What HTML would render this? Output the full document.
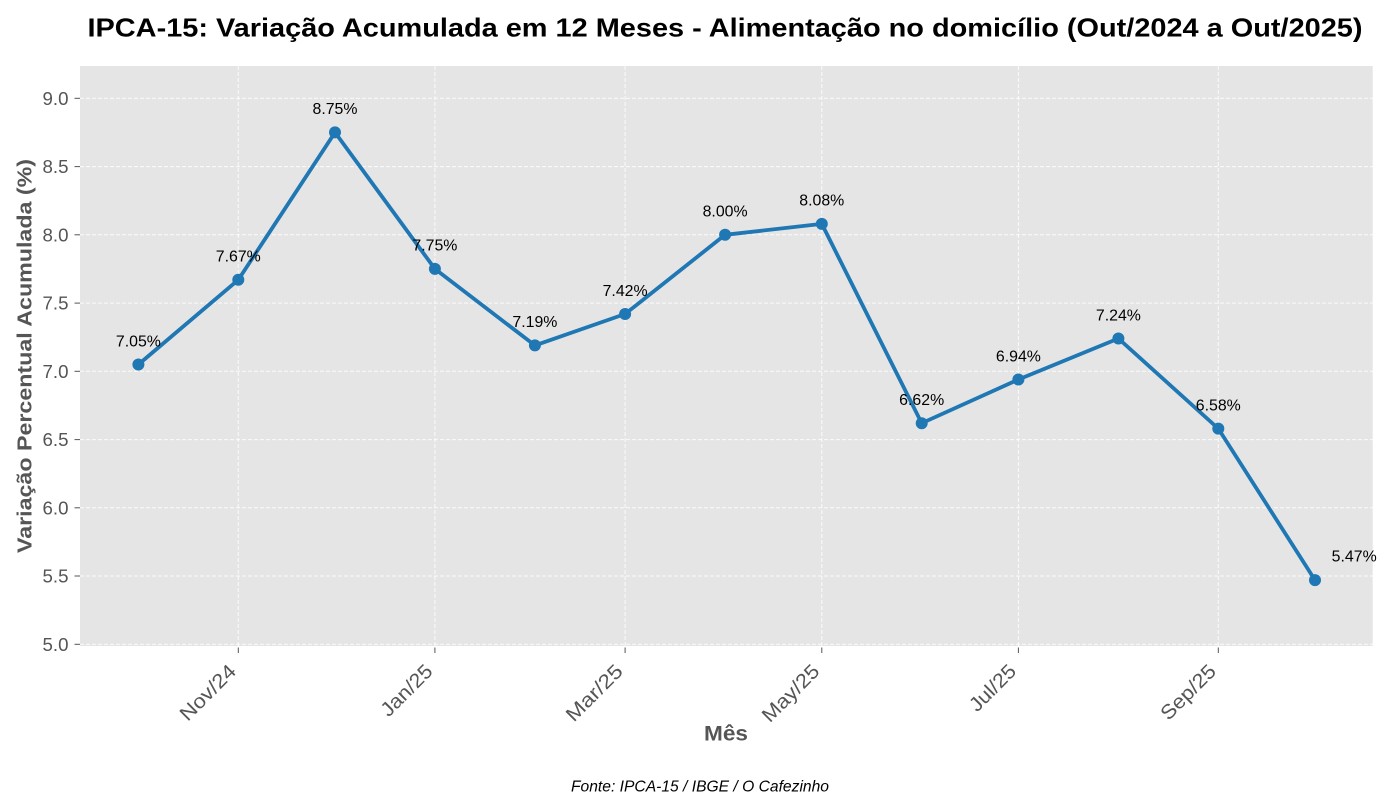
<!DOCTYPE html>
<html>
<head>
<meta charset="utf-8">
<style>
  html, body { margin:0; padding:0; background:#ffffff; }
  svg { display:block; }
  .tick { font-family:"Liberation Sans", "DejaVu Sans", sans-serif; font-size:18px; fill:#555555; }
  .xt { font-family:"Liberation Sans", "DejaVu Sans", sans-serif; font-size:20px; fill:#555555; }
  .dl { font-family:"Liberation Sans", "DejaVu Sans", sans-serif; font-size:15.5px; fill:#000000; text-anchor:middle; }
</style>
</head>
<body>
<svg width="1400" height="800" viewBox="0 0 1400 800" xmlns="http://www.w3.org/2000/svg">
  <rect x="0" y="0" width="1400" height="800" fill="#ffffff"/>
  <rect x="80" y="66" width="1292.7" height="580" fill="#e5e5e5"/>

  <g stroke="#ffffff" stroke-opacity="0.85" stroke-width="1" stroke-dasharray="4,2" fill="none">
    <line x1="80" x2="1372.7" y1="644.3" y2="644.3"/>
    <line x1="80" x2="1372.7" y1="576.0" y2="576.0"/>
    <line x1="80" x2="1372.7" y1="507.8" y2="507.8"/>
    <line x1="80" x2="1372.7" y1="439.6" y2="439.6"/>
    <line x1="80" x2="1372.7" y1="371.3" y2="371.3"/>
    <line x1="80" x2="1372.7" y1="303.1" y2="303.1"/>
    <line x1="80" x2="1372.7" y1="234.8" y2="234.8"/>
    <line x1="80" x2="1372.7" y1="166.6" y2="166.6"/>
    <line x1="80" x2="1372.7" y1="98.3" y2="98.3"/>
    <line x1="238.3" x2="238.3" y1="66" y2="646"/>
    <line x1="434.9" x2="434.9" y1="66" y2="646"/>
    <line x1="625.1" x2="625.1" y1="66" y2="646"/>
    <line x1="821.8" x2="821.8" y1="66" y2="646"/>
    <line x1="1018.4" x2="1018.4" y1="66" y2="646"/>
    <line x1="1218.3" x2="1218.3" y1="66" y2="646"/>
  </g>

  <g stroke="#555555" stroke-width="1">
    <line x1="74.5" x2="80" y1="644.3" y2="644.3"/>
    <line x1="74.5" x2="80" y1="576.0" y2="576.0"/>
    <line x1="74.5" x2="80" y1="507.8" y2="507.8"/>
    <line x1="74.5" x2="80" y1="439.6" y2="439.6"/>
    <line x1="74.5" x2="80" y1="371.3" y2="371.3"/>
    <line x1="74.5" x2="80" y1="303.1" y2="303.1"/>
    <line x1="74.5" x2="80" y1="234.8" y2="234.8"/>
    <line x1="74.5" x2="80" y1="166.6" y2="166.6"/>
    <line x1="74.5" x2="80" y1="98.3" y2="98.3"/>
    <line x1="238.3" x2="238.3" y1="647.5" y2="653"/>
    <line x1="434.9" x2="434.9" y1="647.5" y2="653"/>
    <line x1="625.1" x2="625.1" y1="647.5" y2="653"/>
    <line x1="821.8" x2="821.8" y1="647.5" y2="653"/>
    <line x1="1018.4" x2="1018.4" y1="647.5" y2="653"/>
    <line x1="1218.3" x2="1218.3" y1="647.5" y2="653"/>
  </g>
  <g class="tick" text-anchor="end">
    <text x="68.5" y="650.8" textLength="26" lengthAdjust="spacingAndGlyphs">5.0</text>
    <text x="68.5" y="582.5" textLength="26" lengthAdjust="spacingAndGlyphs">5.5</text>
    <text x="68.5" y="514.3" textLength="26" lengthAdjust="spacingAndGlyphs">6.0</text>
    <text x="68.5" y="446.1" textLength="26" lengthAdjust="spacingAndGlyphs">6.5</text>
    <text x="68.5" y="377.8" textLength="26" lengthAdjust="spacingAndGlyphs">7.0</text>
    <text x="68.5" y="309.6" textLength="26" lengthAdjust="spacingAndGlyphs">7.5</text>
    <text x="68.5" y="241.3" textLength="26" lengthAdjust="spacingAndGlyphs">8.0</text>
    <text x="68.5" y="173.1" textLength="26" lengthAdjust="spacingAndGlyphs">8.5</text>
    <text x="68.5" y="104.8" textLength="26" lengthAdjust="spacingAndGlyphs">9.0</text>
  </g>

  <g class="xt" text-anchor="end">
    <text transform="translate(237.3,672.5) rotate(-45)" textLength="70" lengthAdjust="spacingAndGlyphs">Nov/24</text>
    <text transform="translate(433.9,672.5) rotate(-45)" textLength="64" lengthAdjust="spacingAndGlyphs">Jan/25</text>
    <text transform="translate(624.1,672.5) rotate(-45)" textLength="71" lengthAdjust="spacingAndGlyphs">Mar/25</text>
    <text transform="translate(820.8,672.5) rotate(-45)" textLength="72" lengthAdjust="spacingAndGlyphs">May/25</text>
    <text transform="translate(1017.4,672.5) rotate(-45)" textLength="57" lengthAdjust="spacingAndGlyphs">Jul/25</text>
    <text transform="translate(1217.3,672.5) rotate(-45)" textLength="69" lengthAdjust="spacingAndGlyphs">Sep/25</text>
  </g>

  <polyline fill="none" stroke="#1f77b4" stroke-width="3.8" stroke-linejoin="round" stroke-linecap="round"
    points="138.4,364.5 238.3,279.8 335.0,132.4 434.9,268.9 534.9,345.4 625.1,314.0 725.1,234.8 821.8,223.9 921.7,423.2 1018.4,379.5 1118.4,338.5 1218.3,428.6 1315.0,580.1"/>
  <g fill="#1f77b4">
    <circle cx="138.4" cy="364.5" r="6"/>
    <circle cx="238.3" cy="279.8" r="6"/>
    <circle cx="335.0" cy="132.4" r="6"/>
    <circle cx="434.9" cy="268.9" r="6"/>
    <circle cx="534.9" cy="345.4" r="6"/>
    <circle cx="625.1" cy="314.0" r="6"/>
    <circle cx="725.1" cy="234.8" r="6"/>
    <circle cx="821.8" cy="223.9" r="6"/>
    <circle cx="921.7" cy="423.2" r="6"/>
    <circle cx="1018.4" cy="379.5" r="6"/>
    <circle cx="1118.4" cy="338.5" r="6"/>
    <circle cx="1218.3" cy="428.6" r="6"/>
    <circle cx="1315.0" cy="580.1" r="6"/>
  </g>

  <g class="dl">
    <text x="138.4" y="346.3" textLength="45" lengthAdjust="spacingAndGlyphs">7.05%</text>
    <text x="238.3" y="261.6" textLength="45" lengthAdjust="spacingAndGlyphs">7.67%</text>
    <text x="335.0" y="114.2" textLength="45" lengthAdjust="spacingAndGlyphs">8.75%</text>
    <text x="434.9" y="250.7" textLength="45" lengthAdjust="spacingAndGlyphs">7.75%</text>
    <text x="534.9" y="327.2" textLength="45" lengthAdjust="spacingAndGlyphs">7.19%</text>
    <text x="625.1" y="295.8" textLength="45" lengthAdjust="spacingAndGlyphs">7.42%</text>
    <text x="725.1" y="216.6" textLength="45" lengthAdjust="spacingAndGlyphs">8.00%</text>
    <text x="821.8" y="205.7" textLength="45" lengthAdjust="spacingAndGlyphs">8.08%</text>
    <text x="921.7" y="405.0" textLength="45" lengthAdjust="spacingAndGlyphs">6.62%</text>
    <text x="1018.4" y="361.3" textLength="45" lengthAdjust="spacingAndGlyphs">6.94%</text>
    <text x="1118.4" y="320.3" textLength="45" lengthAdjust="spacingAndGlyphs">7.24%</text>
    <text x="1218.3" y="410.4" textLength="45" lengthAdjust="spacingAndGlyphs">6.58%</text>
    <text x="1354.2" y="561.7" textLength="45" lengthAdjust="spacingAndGlyphs">5.47%</text>
  </g>

  <text x="725" y="36.5" text-anchor="middle" font-family="Liberation Sans, DejaVu Sans, sans-serif" font-weight="bold" font-size="26" fill="#000000" textLength="1275" lengthAdjust="spacingAndGlyphs">IPCA-15: Variação Acumulada em 12 Meses - Alimentação no domicílio (Out/2024 a Out/2025)</text>

  <text x="726" y="740.7" text-anchor="middle" font-family="Liberation Sans, DejaVu Sans, sans-serif" font-weight="bold" font-size="21" fill="#555555" textLength="44" lengthAdjust="spacingAndGlyphs">Mês</text>
  <text transform="translate(31.5,356) rotate(-90)" text-anchor="middle" font-family="Liberation Sans, DejaVu Sans, sans-serif" font-weight="bold" font-size="20" fill="#555555" textLength="394" lengthAdjust="spacingAndGlyphs">Variação Percentual Acumulada (%)</text>

  <text x="700" y="791.7" text-anchor="middle" font-family="Liberation Sans, DejaVu Sans, sans-serif" font-style="italic" font-size="15.5" fill="#000000" textLength="258" lengthAdjust="spacingAndGlyphs">Fonte: IPCA-15 / IBGE / O Cafezinho</text>
</svg>
</body>
</html>
